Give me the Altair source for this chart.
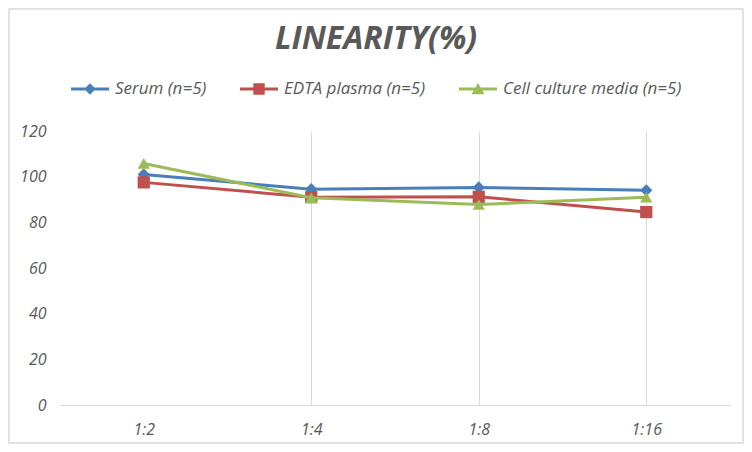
import altair as alt
import pandas as pd

categories = ["1:2", "1:4", "1:8", "1:16"]
series_names = ["Serum (n=5)", "EDTA plasma (n=5)", "Cell culture media (n=5)"]
serum = [101, 94.5, 95.3, 94]
edta = [97.5, 91, 91.2, 84.5]
cell = [105.8, 90.8, 87.8, 91]
y_ticks = [0, 20, 40, 60, 80, 100, 120]

colors = ["#4A7EBB", "#C0504D", "#9BBB59"]
markers = ["diamond", "square", "triangle-up"]
legend_paths = [
    "M-1,-0.08H1V0.08H-1Z M0,-0.3L0.3,0L0,0.3L-0.3,0Z",
    "M-1,-0.08H1V0.08H-1Z M-0.3,-0.3H0.3V0.3H-0.3Z",
    "M-1,-0.08H1V0.08H-1Z M0,-0.32L0.34,0.27L-0.34,0.27Z",
]

rows = []
for name, vals in zip(series_names, [serum, edta, cell]):
    for c, v in zip(categories, vals):
        rows.append({"series": name, "dilution": c, "value": v})
df = pd.DataFrame(rows)

FONT = "Open Sans"
GRAY = "#595959"

x_enc = alt.X(
    "dilution:N",
    sort=categories,
    scale=alt.Scale(paddingInner=0, paddingOuter=0),
    axis=alt.Axis(
        title=None, labelAngle=0, ticks=False, labelPadding=16,
        labelFont=FONT, labelFontSize=16, labelFontStyle="italic", labelColor=GRAY,
        domainColor="#d9d9d9", domainWidth=1,
        grid=True, gridColor={"condition": {"test": "datum.value === '1:2'", "value": "transparent"}, "value": "#d9d9d9"},
        bandPosition=0,
    ),
)
y_enc = alt.Y(
    "value:Q",
    scale=alt.Scale(domain=[0, 120], nice=False),
    axis=alt.Axis(
        title=None, values=y_ticks, grid=False, domain=False, ticks=False, labelPadding=14,
        labelFont=FONT, labelFontSize=16, labelFontStyle="italic", labelColor=GRAY,
    ),
)

base = alt.Chart(df)

series_layers = []
for name, col, shp in zip(series_names, colors, markers):
    sub = base.transform_filter(alt.datum.series == name)
    series_layers.append(sub.mark_line(strokeWidth=3, color=col).encode(x=x_enc, y=y_enc))
    series_layers.append(
        sub.mark_point(filled=True, opacity=1, size=150, shape=shp, color=col).encode(x=x_enc, y=y_enc)
    )

legend_layer = base.transform_filter("false").mark_point(filled=True, opacity=1).encode(
    x=x_enc, y=y_enc,
    color=alt.Color("series:N", sort=series_names,
                    scale=alt.Scale(domain=series_names, range=colors),
                    legend=alt.Legend(
                        title=None, orient="none", direction="horizontal", columns=3,
                        legendX=11, legendY=-61, symbolSize=1444, symbolOpacity=1,
                        symbolStrokeWidth=0, columnPadding=33, labelOffset=6, labelLimit=400,
                        labelFont=FONT, labelFontSize=17, labelFontStyle="italic", labelColor=GRAY,
                    )),
    shape=alt.Shape("series:N", sort=series_names,
                    scale=alt.Scale(domain=series_names, range=legend_paths)),
)

border = alt.Chart(alt.Data(values=[{}])).mark_rect(
    fill="transparent", stroke="#d9d9d9", strokeWidth=1.5
).encode(x=alt.value(-51), x2=alt.value(683), y=alt.value(-122), y2=alt.value(312))

chart = alt.layer(border, *series_layers, legend_layer).properties(
    width=670, height=274,
    background="white",
    autosize=alt.AutoSizeParams(type="none"),
    padding={"left": 52, "top": 123, "right": 14, "bottom": 39},
    title=alt.TitleParams(
        "LINEARITY(%)", font=FONT, fontSize=32, fontWeight="bold", fontStyle="italic",
        color=GRAY, anchor="middle", frame="bounds", offset=-48,
    ),
).configure_view(strokeWidth=0)

chart.save("out.html", embed_options={"renderer": "svg", "actions": False})
